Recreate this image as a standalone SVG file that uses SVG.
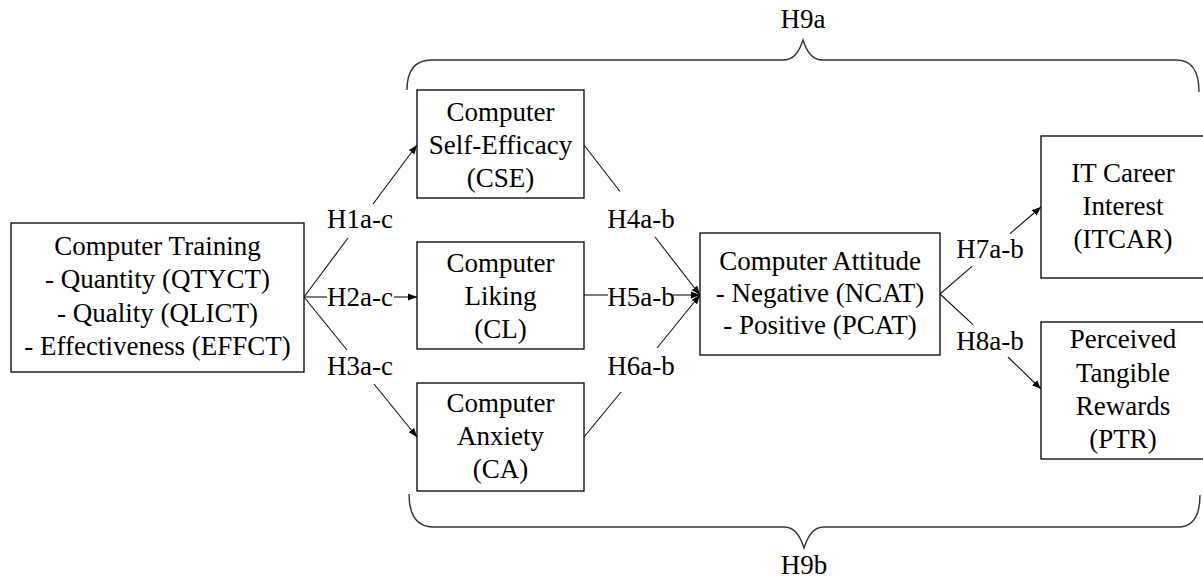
<svg xmlns="http://www.w3.org/2000/svg" width="1203" height="580" viewBox="0 0 1203 580">
<style>
text{font-size:27px;fill:#000;text-anchor:middle}
.box{fill:#fff;stroke:#000;stroke-width:1.3}
.ln{stroke:#111;stroke-width:1.1;fill:none}
.br{stroke:#333;stroke-width:1.4;fill:none}
</style>
<defs>
<marker id="ah" viewBox="0 0 10 8" refX="10" refY="4" markerWidth="9" markerHeight="7.5" markerUnits="userSpaceOnUse" orient="auto">
<path d="M0,0 L10,4 L0,8 z" fill="#000"/>
</marker>
</defs>
<g font-family="Liberation Serif, Tinos, Times New Roman, DejaVu Serif, serif">
<g id="braces">
<path class="br" d="M407,90 C407,72 414,60 432,60 L783,60 C794,60 799,52 803,40 C807,52 812,60 823,60 L1176,60 C1193,60 1199,72 1199,92"/>
<text x="803" y="28">H9a</text>
<path class="br" d="M409,494 C409,515 416,527 434,527 L784,527 C795,527 800,536 804,548 C808,536 813,527 824,527 L1178,527 C1194,527 1200,515 1200,495"/>
<text x="804" y="574">H9b</text>
</g>
<g id="connectors">
<line class="ln" x1="304" y1="297" x2="348" y2="238"/>
<line class="ln" x1="373" y1="204" x2="417" y2="145" marker-end="url(#ah)"/>
<line class="ln" x1="304" y1="297" x2="327" y2="297"/>
<line class="ln" x1="394" y1="297" x2="417" y2="297" marker-end="url(#ah)"/>
<line class="ln" x1="304" y1="297" x2="347" y2="350"/>
<line class="ln" x1="374" y1="384" x2="417" y2="437" marker-end="url(#ah)"/>
<line class="ln" x1="584" y1="145" x2="620" y2="191.5"/>
<line class="ln" x1="655" y1="237" x2="700" y2="295" marker-end="url(#ah)"/>
<line class="ln" x1="584" y1="295" x2="608" y2="295"/>
<line class="ln" x1="673" y1="295" x2="700" y2="295" marker-end="url(#ah)"/>
<line class="ln" x1="584" y1="437" x2="621" y2="392"/>
<line class="ln" x1="657" y1="348" x2="700" y2="295" marker-end="url(#ah)"/>
<line class="ln" x1="940" y1="294" x2="972" y2="266.4"/>
<line class="ln" x1="1010" y1="233.7" x2="1041" y2="207" marker-end="url(#ah)"/>
<line class="ln" x1="940" y1="294" x2="973" y2="324.7"/>
<line class="ln" x1="1008" y1="357" x2="1041" y2="389" marker-end="url(#ah)"/>
<text x="360" y="228">H1a-c</text>
<text x="360" y="306">H2a-c</text>
<text x="360" y="375">H3a-c</text>
<text x="641" y="228">H4a-b</text>
<text x="641" y="306">H5a-b</text>
<text x="641" y="375">H6a-b</text>
<text x="990" y="258">H7a-b</text>
<text x="990" y="350">H8a-b</text>
</g>
<g id="training">
<rect class="box" x="11" y="223" width="293" height="149"/>
<text x="157.5" y="255">Computer Training</text>
<text x="157.5" y="288">- Quantity (QTYCT)</text>
<text x="157.5" y="322">- Quality (QLICT)</text>
<text x="157.5" y="355">- Effectiveness (EFFCT)</text>
</g>
<g id="cse">
<rect class="box" x="417" y="90" width="167" height="108"/>
<text x="500.5" y="121">Computer</text>
<text x="500.5" y="154">Self-Efficacy</text>
<text x="500.5" y="187">(CSE)</text>
</g>
<g id="cl">
<rect class="box" x="417" y="242" width="167" height="107"/>
<text x="500.5" y="272">Computer</text>
<text x="500.5" y="305">Liking</text>
<text x="500.5" y="338">(CL)</text>
</g>
<g id="ca">
<rect class="box" x="417" y="383" width="167" height="108"/>
<text x="500.5" y="412">Computer</text>
<text x="500.5" y="445">Anxiety</text>
<text x="500.5" y="478">(CA)</text>
</g>
<g id="attitude">
<rect class="box" x="700" y="233" width="240" height="122"/>
<text x="820" y="270">Computer Attitude</text>
<text x="820" y="302">- Negative (NCAT)</text>
<text x="820" y="334">- Positive (PCAT)</text>
</g>
<g id="itcar">
<rect class="box" x="1041" y="136" width="164" height="142"/>
<text x="1123" y="182">IT Career</text>
<text x="1123" y="215">Interest</text>
<text x="1123" y="248">(ITCAR)</text>
</g>
<g id="ptr">
<rect class="box" x="1041" y="322" width="164" height="137"/>
<text x="1123" y="348">Perceived</text>
<text x="1123" y="382">Tangible</text>
<text x="1123" y="415">Rewards</text>
<text x="1123" y="448">(PTR)</text>
</g>
</g>
</svg>
